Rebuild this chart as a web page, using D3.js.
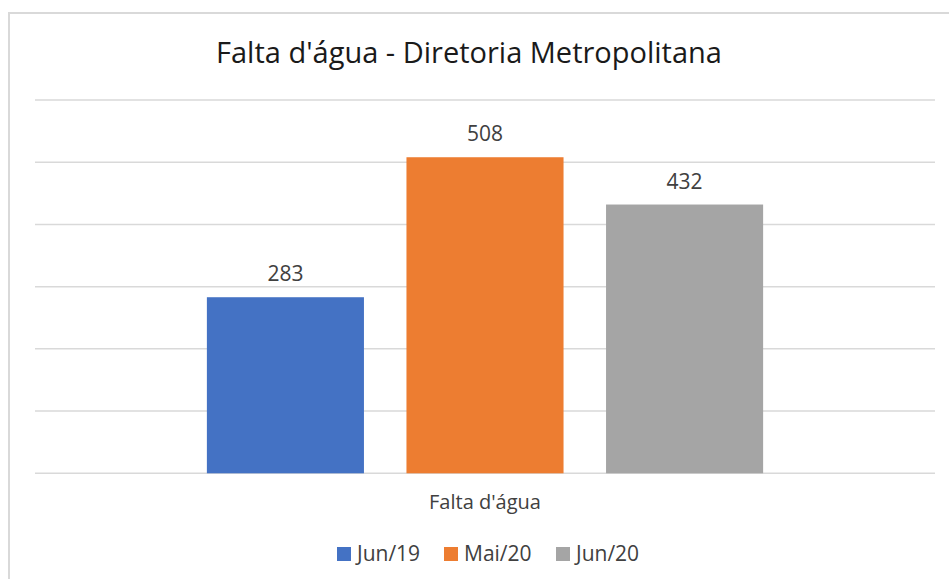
<!DOCTYPE html>
<html>
<head>
<meta charset="utf-8">
<script src="https://cdn.jsdelivr.net/npm/d3@7"></script>
<style>
  body { margin: 0; background: #fff; }
  svg { display: block; font-family: "Open Sans", "Noto Sans", sans-serif; }
</style>
</head>
<body>
<div id="viz-container"></div>
<script>
const width = 949, height = 579;
const font = "'Open Sans', 'Noto Sans', sans-serif";

// Données
const category = "Falta d'água";
const series = ["Jun/19", "Mai/20", "Jun/20"];
const values = [283, 508, 432];
const colors = ["#4472c4", "#ed7d31", "#a5a5a5"];
const yTicks = [0, 100, 200, 300, 400, 500, 600];

const svg = d3.select("#viz-container")
  .append("svg")
  .attr("width", width)
  .attr("height", height);

// Cadre du graphique
svg.append("rect")
  .attr("x", 9)
  .attr("y", 13)
  .attr("width", width + 20)
  .attr("height", height + 20)
  .attr("fill", "#fff")
  .attr("stroke", "#d9d9d9")
  .attr("stroke-width", 2);

const plot = {left: 35, right: 935, top: 100, bottom: 473.3};

// Échelles
const x0 = d3.scaleBand()
  .domain([category])
  .range([plot.left, plot.right])
  .paddingInner(0)
  .paddingOuter(0.309);

const x1 = d3.scaleBand()
  .domain(series)
  .range([0, x0.bandwidth()])
  .paddingInner(0.213)
  .paddingOuter(0);

const y = d3.scaleLinear()
  .domain([0, 600])
  .range([plot.bottom, plot.top]);

// Grille
svg.append("g")
  .selectAll("line")
  .data(yTicks)
  .join("line")
  .attr("x1", plot.left)
  .attr("x2", plot.right)
  .attr("y1", d => y(d))
  .attr("y2", d => y(d))
  .attr("stroke", "#d9d9d9")
  .attr("stroke-width", 1.5);

// Barres
const g = svg.append("g")
  .attr("transform", `translate(${x0(category)},0)`);

g.selectAll("rect")
  .data(values)
  .join("rect")
  .attr("x", (d, i) => x1(series[i]))
  .attr("y", d => y(d))
  .attr("width", x1.bandwidth())
  .attr("height", d => y(0) - y(d))
  .attr("fill", (d, i) => colors[i]);

// Étiquettes de valeur
g.selectAll("text")
  .data(values)
  .join("text")
  .attr("x", (d, i) => x1(series[i]) + x1.bandwidth() / 2)
  .attr("y", d => y(d) - 16)
  .attr("text-anchor", "middle")
  .attr("fill", "#404040")
  .style("font-family", font)
  .style("font-size", "21px")
  .text(d => d);

// Axe X (libellé de catégorie)
svg.append("g")
  .attr("transform", `translate(0,${plot.bottom})`)
  .call(d3.axisBottom(x0).tickSize(0).tickPadding(22))
  .call(a => a.select(".domain").remove())
  .call(a => a.selectAll("text")
    .attr("fill", "#404040")
    .style("font-size", "20px")
    .style("font-family", font));

// Titre
svg.append("text")
  .attr("x", 469)
  .attr("y", 63)
  .attr("text-anchor", "middle")
  .attr("fill", "#1a1a1a")
  .style("font-size", "29px")
  .text("Falta d'água - Diretoria Metropolitana");

// Légende
const legendX = [337, 444, 556];
const legend = svg.append("g");
series.forEach((s, i) => {
  const lg = legend.append("g")
    .attr("transform", `translate(${legendX[i]},547)`);
  lg.append("rect")
    .attr("width", 14)
    .attr("height", 14)
    .attr("fill", colors[i]);
  lg.append("text")
    .attr("x", 20)
    .attr("y", 14)
    .attr("fill", "#404040")
    .style("font-size", "21px")
    .text(s);
});
</script>
</body>
</html>
